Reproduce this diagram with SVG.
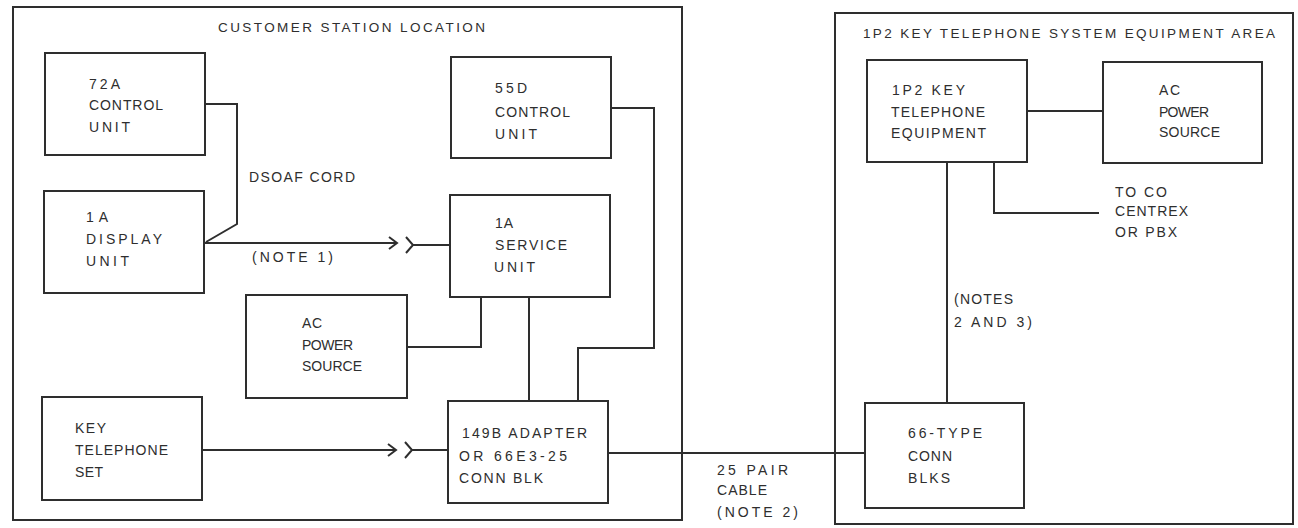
<svg xmlns="http://www.w3.org/2000/svg" width="1298" height="528" viewBox="0 0 1298 528">
<style>
rect, path, line { fill: none; stroke: #2e2e2e; stroke-width: 2; stroke-linejoin: miter; }
text { font-family: "Liberation Sans", Arial, sans-serif; font-size: 14px; fill: #2e2e2e; }
.title { font-size: 13.5px; }
</style>
<defs>
<marker id="chev" markerWidth="12" markerHeight="14" refX="10" refY="7" orient="auto" markerUnits="userSpaceOnUse">
<path d="M2,1 L10,7 L2,13" style="stroke:#2e2e2e;stroke-width:2;fill:none"/>
</marker>
</defs>
<rect width="1298" height="528" style="fill:#ffffff;stroke:none"/>

<g id="area-customer">
<rect x="13" y="7" width="669" height="513"/>
<text class="title" x="218" y="32" textLength="267">CUSTOMER STATION LOCATION</text>
</g>
<g id="area-1p2">
<rect x="835" y="13" width="458" height="511"/>
<text class="title" x="863" y="38" textLength="412">1P2 KEY TELEPHONE SYSTEM EQUIPMENT AREA</text>
</g>

<g id="node-72a">
<rect x="45" y="53" width="160" height="102"/>
<text x="89" y="89" textLength="31">72A</text>
<text x="89" y="110" textLength="74">CONTROL</text>
<text x="89" y="132" textLength="41">UNIT</text>
</g>
<g id="node-1a-display">
<rect x="44" y="191" width="160" height="102"/>
<text x="86" y="222" textLength="22">1A</text>
<text x="86" y="244" textLength="76">DISPLAY</text>
<text x="86" y="266" textLength="43">UNIT</text>
</g>
<g id="node-55d">
<rect x="451" y="57" width="160" height="101"/>
<text x="495" y="93" textLength="32">55D</text>
<text x="495" y="117" textLength="75">CONTROL</text>
<text x="495" y="139" textLength="42">UNIT</text>
</g>
<g id="node-1a-service">
<rect x="450" y="195" width="160" height="102"/>
<text x="495" y="228" textLength="18">1A</text>
<text x="495" y="250" textLength="72">SERVICE</text>
<text x="494" y="272" textLength="41">UNIT</text>
</g>
<g id="node-ac-left">
<rect x="246" y="295" width="161" height="103"/>
<text x="302" y="328" textLength="20">AC</text>
<text x="302" y="350" textLength="51">POWER</text>
<text x="302" y="371" textLength="60">SOURCE</text>
</g>
<g id="node-key-set">
<rect x="42" y="397" width="160" height="103"/>
<text x="75" y="433" textLength="31">KEY</text>
<text x="75" y="455" textLength="93">TELEPHONE</text>
<text x="75" y="477" textLength="28">SET</text>
</g>
<g id="node-149b">
<rect x="448" y="401" width="160" height="102"/>
<text x="462" y="438" textLength="125">149B ADAPTER</text>
<text x="459" y="461" textLength="108">OR 66E3-25</text>
<text x="459" y="483" textLength="84">CONN BLK</text>
</g>
<g id="node-1p2-equip">
<rect x="867" y="60" width="160" height="102"/>
<text x="892" y="95" textLength="73">1P2 KEY</text>
<text x="891" y="117" textLength="94">TELEPHONE</text>
<text x="891" y="138" textLength="95">EQUIPMENT</text>
</g>
<g id="node-ac-right">
<rect x="1103" y="62" width="159" height="101"/>
<text x="1159" y="95" textLength="21">AC</text>
<text x="1159" y="117" textLength="50">POWER</text>
<text x="1159" y="137" textLength="61">SOURCE</text>
</g>
<g id="node-66type">
<rect x="865" y="403" width="159" height="105"/>
<text x="908" y="438" textLength="74">66-TYPE</text>
<text x="908" y="461" textLength="44">CONN</text>
<text x="908" y="483" textLength="42">BLKS</text>
</g>

<g id="connectors">
<path d="M205,104 H237 V224 L206,242"/>
<path d="M205,243 H397" marker-end="url(#chev)"/>
<path d="M406,237 L413,245 L406,253 M413,245 H450"/>
<path d="M202,450 H396" marker-end="url(#chev)"/>
<path d="M405,442 L412,450 L405,458 M412,450 H448"/>
<path d="M611,108 H654 V348 H578 V401"/>
<path d="M407,347 H481 V297"/>
<path d="M529,297 V401"/>
<path d="M608,453 H865"/>
<path d="M1027,111 H1103"/>
<path d="M994,162 V213 H1099"/>
<path d="M947,162 V403"/>
</g>

<g id="labels">
<text x="249" y="182" textLength="106">DSOAF CORD</text>
<text x="252" y="262" textLength="81">(NOTE 1)</text>
<text x="717" y="475" textLength="71">25 PAIR</text>
<text x="717" y="495" textLength="50">CABLE</text>
<text x="717" y="517" textLength="81">(NOTE 2)</text>
<text x="1115" y="197" textLength="52">TO CO</text>
<text x="1115" y="216" textLength="73">CENTREX</text>
<text x="1115" y="237" textLength="62">OR PBX</text>
<text x="954" y="304" textLength="59">(NOTES</text>
<text x="954" y="327" textLength="78">2 AND 3)</text>
</g>
</svg>
